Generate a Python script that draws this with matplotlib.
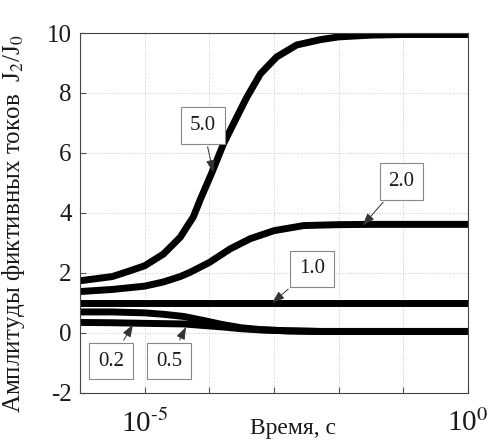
import numpy as np
import matplotlib
matplotlib.use('Agg')
from matplotlib import pyplot as plt

plt.rcParams['font.family'] = ['Liberation Serif', 'DejaVu Serif']
plt.rcParams['mathtext.fontset'] = 'stix'
plt.rcParams['axes.unicode_minus'] = False

# time as log10(t, s), amplitude J2/J0
log_t_50 = [-6, -5.5, -5.23, -5.0, -4.71, -4.45, -4.35, -4.25, -4.14, -3.96, -3.78, -3.6,
            -3.42, -3.21, -2.96, -2.65, -2.28, -2.0, -1.5, -1, 0]
j_50 = [1.74, 1.88, 2.07, 2.24, 2.63, 3.19, 3.53, 3.86, 4.45, 5.35, 6.31, 7.09,
        7.86, 8.64, 9.2, 9.6, 9.78, 9.87, 9.93, 9.95, 9.95]

log_t_20 = [-6, -5.5, -5.0, -4.71, -4.45, -4.3, -4.0, -3.68, -3.37, -3.0, -2.54, -2.0, -1.5, 0]
j_20 = [1.38, 1.45, 1.56, 1.7, 1.88, 2.02, 2.35, 2.8, 3.14, 3.41, 3.58, 3.61, 3.62, 3.62]

log_t_10 = [-6, 0]
j_10 = [1.0, 1.0]

log_t_05 = [-6, -5.5, -5, -4.7, -4.4, -4.1, -3.8, -3.5, -3.2, -2.8, -2.3, 0]
j_05 = [0.7, 0.7, 0.67, 0.62, 0.55, 0.42, 0.28, 0.17, 0.11, 0.07, 0.05, 0.05]

log_t_02 = [-6, -5.5, -5, -4.4, -4.1, -3.8, -3.5, -3.2, -2.8, -2.3, 0]
j_02 = [0.35, 0.34, 0.32, 0.3, 0.25, 0.2, 0.14, 0.1, 0.07, 0.05, 0.05]

x_ticks = [1e-6, 1e-5, 1e-4, 1e-3, 1e-2, 1e-1, 1e0]
x_labels = ['', r'10$^{\text{-5}}$', '', '', '', '', r'10$^{\text{0}}$']
y_ticks = [-2, 0, 2, 4, 6, 8, 10]

txt = '#1a1a1a'

fig = plt.figure(figsize=(4.88, 4.46), dpi=100)
ax = fig.add_axes([0.164, 0.119, 0.795, 0.807])

for lt, y in [(log_t_50, j_50), (log_t_20, j_20), (log_t_10, j_10),
              (log_t_05, j_05), (log_t_02, j_02)]:
    ax.plot(np.power(10.0, lt), y, color='black', lw=5, solid_capstyle='butt',
            solid_joinstyle='round')

ax.set_xscale('log')
ax.set_xlim(1e-6, 1e0)
ax.set_ylim(-2, 10)
ax.set_xticks(x_ticks, labels=x_labels)
ax.minorticks_off()
ax.set_yticks(y_ticks)
ax.grid(True, ls=':', color='#c8c8c8', lw=0.7)
ax.tick_params(direction='in', length=4, color='#555555', labelcolor=txt)
ax.tick_params(axis='x', labelsize=21, pad=12)
ax.tick_params(axis='y', labelsize=18, pad=6)
for s in ax.spines.values():
    s.set_color('#444444')
    s.set_linewidth(0.8)

ax.set_xlabel('Время, с', fontsize=17, color=txt)
ax.xaxis.set_label_coords(0.55, -0.07)
ax.set_ylabel('Амплитуды фиктивных токов  J$_2$/J$_0$', fontsize=18, color=txt)
ax.yaxis.set_label_coords(-0.137, 0.47)

box = dict(boxstyle='square,pad=0.42', fc='white', ec='#888888', lw=0.8)
arrow = dict(arrowstyle='-|>,head_length=0.5,head_width=0.18', color='#333333', lw=0.7, shrinkB=0)
notes = [
    ('5.0', (10**-3.94, 5.35), (10**-4.10, 6.92)),
    ('2.0', (10**-1.63, 3.58), (10**-1.03, 5.05)),
    ('1.0', (10**-3.03, 1.0), (10**-2.41, 2.14)),
    ('0.2', (10**-5.18, 0.28), (10**-5.52, -0.94)),
    ('0.5', (10**-4.36, 0.2), (10**-4.62, -0.94)),
]
for label, tip, pos in notes:
    ax.annotate(label, xy=tip, xytext=pos, fontsize=15, color=txt,
                ha='center', va='center', bbox=box, arrowprops=arrow)

fig.savefig('out.png', dpi=100)
